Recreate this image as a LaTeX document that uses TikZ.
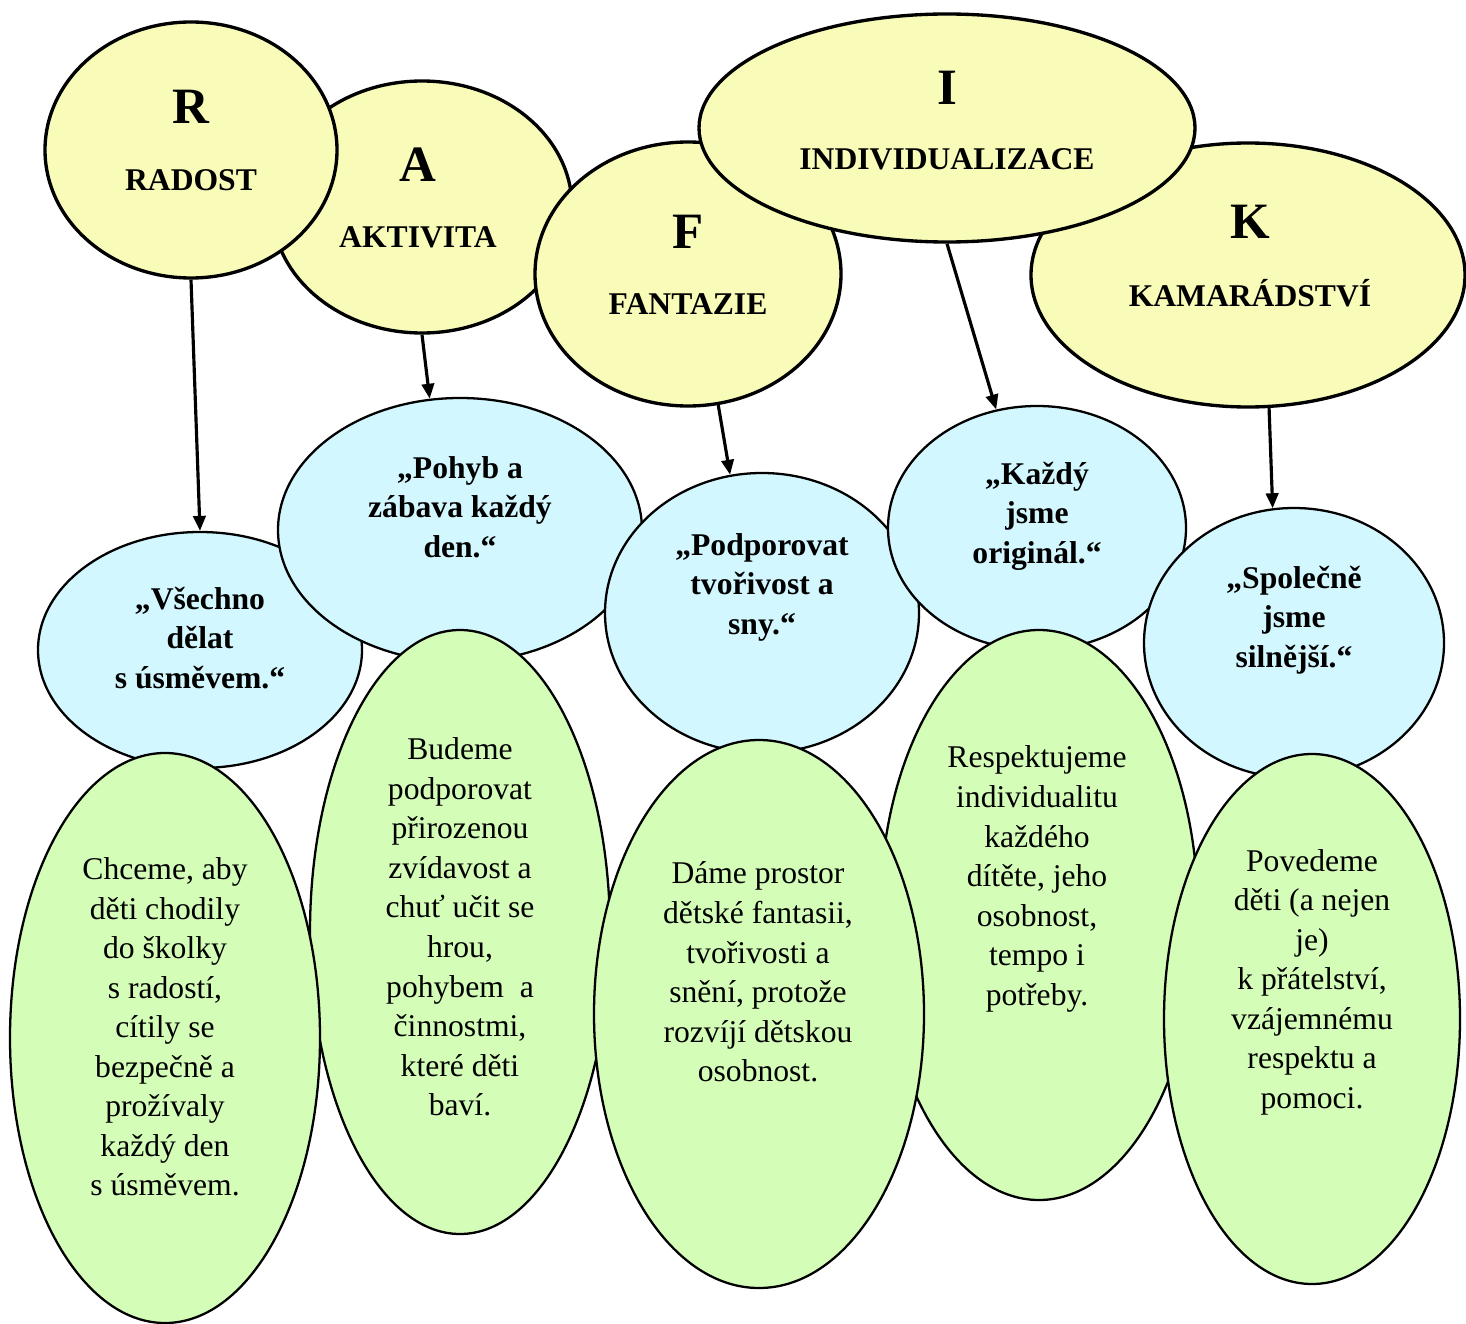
\documentclass[tikz,border=0pt]{standalone}
\usepackage{fontspec}
\setmainfont{Liberation Serif}
\usetikzlibrary{shapes.geometric,arrows.meta}
\definecolor{lemonfill}{HTML}{F8FCB8}
\definecolor{skyfill}{HTML}{D3F7FE}
\definecolor{leaffill}{HTML}{D4FDB8}
\begin{document}
\begin{tikzpicture}[x=0.02cm,y=-0.02cm,
    topoval/.style={ellipse,draw,line width=1.9pt,fill=lemonfill,inner sep=0pt},
    midoval/.style={ellipse,draw,line width=1.3pt,fill=skyfill,inner sep=0pt},
    lowoval/.style={ellipse,draw,line width=1.3pt,fill=leaffill,inner sep=0pt},
    letter/.style={inner sep=0pt,font=\fontsize{29}{34}\selectfont\bfseries},
    word/.style={inner sep=0pt,font=\fontsize{18}{22.5}\selectfont\bfseries},
    quote/.style={inner sep=0pt,align=center,font=\fontsize{18}{22.5}\selectfont\bfseries},
    note/.style={inner sep=0pt,align=center,font=\fontsize{18}{22.5}\selectfont},
    arr/.style={-{Triangle[length=8.5pt,width=7pt]},line width=1.8pt}]
	\useasboundingbox (0,0) rectangle (1466,1324);

	% top row
	\foreach \n/\x/\y/\a/\b in {A/422/207/150/126, R/191/150/146/128, K/1248/275/217/132, F/688/274/153/132, I/947/128/248/114}
	    {
		  \node[topoval, minimum width=2*\a*0.02cm, minimum height=2*\b*0.02cm] (\n) at (\x,\y) {};
	    }
	% middle row
	\foreach \n/\x/\y/\a/\b in {B1/200/650/162/118, B2/460/530/182/132, B3/762/613/157/140, B4/1037/528/149/122, B5/1294/643/150/135}
	    {
		  \node[midoval, minimum width=2*\a*0.02cm, minimum height=2*\b*0.02cm] (\n) at (\x,\y) {};
	    }
	% bottom row
	\foreach \n/\x/\y/\a/\b in {G2/460/932/150/302, G4/1039/915/159/285, G1/165/1038/155/285, G3/759/1014/165/274, G5/1312/1019/148/265}
	    {
		  \node[lowoval, minimum width=2*\a*0.02cm, minimum height=2*\b*0.02cm] (\n) at (\x,\y) {};
	    }

	\node[letter] (Rl) at (191,107) {R};
	\node[word] (Rw) at (191,180) {RADOST};
	\node[letter] (Al) at (418,165) {A};
	\node[word] (Aw) at (418,237) {AKTIVITA};
	\node[letter] (Fl) at (688,232) {F};
	\node[word] (Fw) at (688,304) {FANTAZIE};
	\node[letter] (Il) at (947,88) {I};
	\node[word] (Iw) at (947,159) {INDIVIDUALIZACE};
	\node[letter] (Kl) at (1250,222) {K};
	\node[word] (Kw) at (1250,293) {KAMARÁDSTVÍ};

	\node[quote] (B1t) at (200,638) {„Všechno\\dělat\\s~úsměvem.“};
	\node[quote] (B2t) at (460,507) {„Pohyb a\\zábava každý\\den.“};
	\node[quote] (B3t) at (762,587) {„Podporovat\\tvořivost a\\sny.“};
	\node[quote] (B4t) at (1037,516) {„Každý\\jsme\\originál.“};
	\node[quote] (B5t) at (1294,620) {„Společně\\jsme\\silnější.“};

	\node[note] (G1t) at (165,1027) {Chceme, aby\\děti chodily\\do školky\\s~radostí,\\cítily se\\bezpečně a\\prožívaly\\každý den\\s~úsměvem.};
	\node[note] (G2t) at (460,927) {Budeme\\podporovat\\přirozenou\\zvídavost a\\chuť učit se\\hrou,\\pohybem\ \ a\\činnostmi,\\které děti\\baví.};
	\node[note] (G3t) at (758,972) {Dáme prostor\\dětské fantasii,\\tvořivosti a\\snění, protože\\rozvíjí dětskou\\osobnost.};
	\node[note] (G4t) at (1037,879) {Respektujeme\\individualitu\\každého\\dítěte, jeho\\osobnost,\\tempo i\\potřeby.};
	\node[note] (G5t) at (1312,982) {Povedeme\\děti (a nejen\\je)\\k~přátelství,\\vzájemnému\\respektu a\\pomoci.};

	\draw[arr] (R.south) -- (B1.north);
	\draw[arr] (A.south) -- (B2.103);
	\draw[arr] (F.283) -- (B3.103);
	\draw[arr] (I.south) -- (B4.109);
	\draw[arr] (K.279) -- (B5.99);
\end{tikzpicture}
\end{document}
